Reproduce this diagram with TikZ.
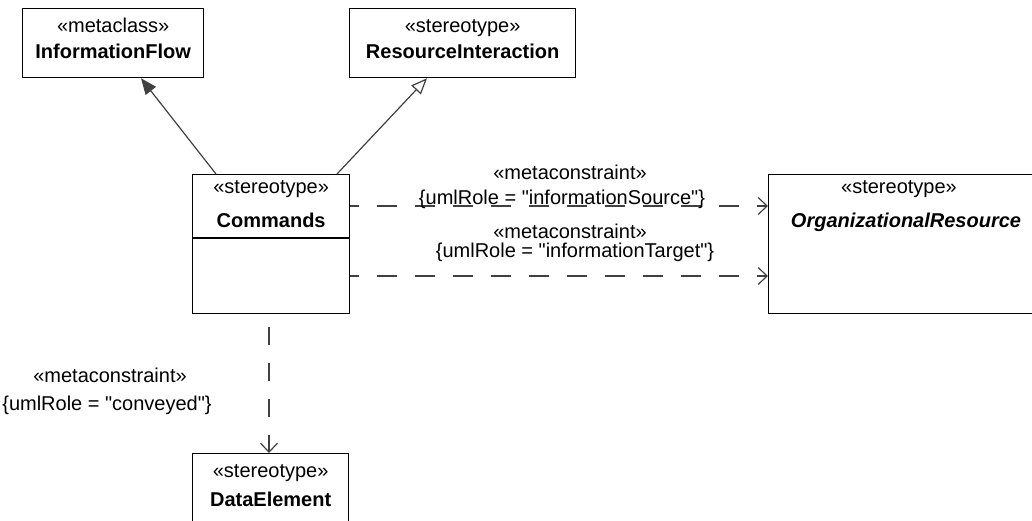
\documentclass[tikz,border=0pt]{standalone}
\usepackage{fontspec}
\setmainfont{Liberation Sans}
\usetikzlibrary{arrows.meta,positioning,calc}
\definecolor{cLine}{HTML}{404040}
\newcommand{\sq}{\textquotedbl}
\tikzset{
  umlbox/.style={draw=black, line width=1.3pt, fill=white, inner sep=0pt, anchor=north west},
  stereo/.style={anchor=base, inner sep=0pt, font=\fontsize{20}{22}\selectfont},
  clsname/.style={stereo, font=\fontsize{20}{22}\selectfont\bfseries},
  cnstr/.style={stereo},
  genarr/.style={cLine, line width=1.2pt, -{Triangle[length=16pt,width=13pt]}},
  realarr/.style={cLine, line width=1.2pt, -{Triangle[open,length=16pt,width=13pt,fill=white]}},
  deparr/.style={cLine, line width=1.2pt, dash pattern=on 20pt off 18pt, dash phase=11pt,
                 -{Straight Barb[length=9pt,width=17pt,line width=1.2pt]}}
}
\begin{document}
\begin{tikzpicture}[x=1pt, y=-1pt]
\useasboundingbox (0,0) rectangle (1032,521);
% classes
\node[umlbox, minimum width=181pt, minimum height=69pt] (infoflow) at (22,8) {};
\node[umlbox, minimum width=226pt, minimum height=69pt] (resint) at (349,8) {};
\node[umlbox, minimum width=157pt, minimum height=139pt] (cmd) at (192,174) {};
\node[umlbox, minimum width=272pt, minimum height=139pt] (orgres) at (768,174) {};
\node[umlbox, minimum width=156pt, minimum height=80pt] (dataelem) at (192,453) {};
\draw[line width=1.3pt] ($(cmd.north west)+(0,64)$) -- ($(cmd.north east)+(0,64)$);
% class texts
\node[stereo] (infoflowst) at ([yshift=-25pt]infoflow.north) {«metaclass»};
\node[clsname] (infoflowname) at ([yshift=-51pt]infoflow.north) {InformationFlow};
\node[stereo] (resintst) at ([yshift=-25pt]resint.north) {«stereotype»};
\node[clsname] (resintname) at ([yshift=-51pt]resint.north) {ResourceInteraction};
\node[stereo] (cmdst) at ([yshift=-20pt]cmd.north) {«stereotype»};
\node[clsname] (cmdname) at ([yshift=-53pt]cmd.north) {Commands};
\node[stereo] (orgresst) at ($(orgres.north west)+(131,20)$) {«stereotype»};
\node[clsname, font=\fontsize{20}{22}\selectfont\bfseries\itshape] (orgresname) at ($(orgres.north west)+(138,53)$) {OrganizationalResource};
\node[stereo] (dataelemst) at ([yshift=-24pt]dataelem.north) {«stereotype»};
\node[clsname] (dataelemname) at ([yshift=-53pt]dataelem.north) {DataElement};
% end points
\coordinate (genfrom) at ($(cmd.north west)+(24,0)$);
\coordinate (gento) at ($(infoflow.south west)+(119,0)$);
\coordinate (realfrom) at ($(cmd.north west)+(145,0)$);
\coordinate (realto) at ($(resint.south west)+(78,0)$);
\coordinate (srcfrom) at ($(cmd.north east)+(0,32)$);
\coordinate (srcto) at ($(orgres.north west)+(0,32)$);
\coordinate (tgtfrom) at ($(cmd.north east)+(0,102)$);
\coordinate (tgtto) at ($(orgres.north west)+(0,102)$);
\coordinate (convfrom) at ($(cmd.south west)+(77,0)$);
\coordinate (convto) at ($(dataelem.north west)+(77,0)$);
% connectors
\draw[genarr] (genfrom) -- (gento);
\draw[realarr] (realfrom) -- (realto);
\draw[deparr] (srcfrom) -- (srcto);
\draw[deparr] (tgtfrom) -- (tgtto);
\draw[deparr, dash pattern=on 18pt off 18pt, dash phase=23pt] (convfrom) -- (convto);
% constraint labels
\node[cnstr] (srcst) at (570,180) {«metaconstraint»};
\node[cnstr] (srclbl) at (562,205) {\{umlRole = \sq informationSource\sq\}};
\node[cnstr] (tgtst) at (570,238) {«metaconstraint»};
\node[cnstr] (tgtlbl) at (575,257) {\{umlRole = \sq informationTarget\sq\}};
\node[cnstr] (convst) at (110,382) {«metaconstraint»};
\node[cnstr] (convlbl) at (107,410) {\{umlRole = \sq conveyed\sq\}};
\end{tikzpicture}
\end{document}
